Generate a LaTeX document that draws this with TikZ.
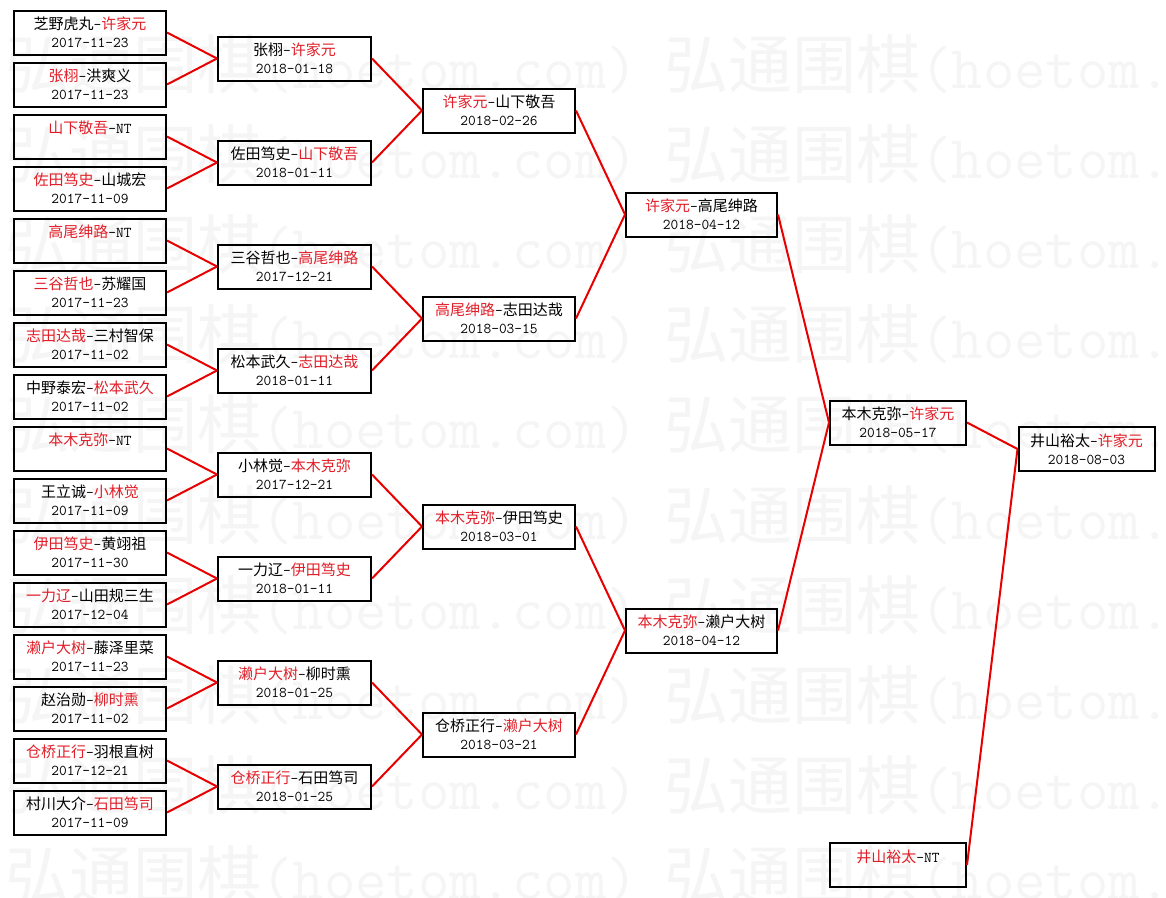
\documentclass[tikz,border=0pt]{standalone}
\usepackage{fontspec}
\setmainfont{Noto Sans CJK SC}
\definecolor{wred}{RGB}{225,30,40}
\definecolor{lred}{RGB}{232,0,0}
\definecolor{wmark}{RGB}{245,245,245}
\newcommand\rd[1]{\textcolor{wred}{#1}}
\newcommand\hy{{\ttfamily-}}
\newcommand\dt[1]{{\ttfamily #1}}
\newcommand\wm{弘通围棋{\fontsize{45.7}{48}\ttfamily(hoetom.com)}}
\tikzset{
  box/.style={draw=black, line width=1.5pt, rectangle, inner sep=0pt, align=center,
    minimum height=33pt, font=\fontsize{11.25}{13.5}\selectfont},
  cA/.style={box, minimum width=114pt},
  cB/.style={box, minimum width=114.75pt},
  cC/.style={box, minimum width=114pt},
  cD/.style={box, minimum width=113.25pt},
  cE/.style={box, minimum width=102pt},
  link/.style={draw=lred, line width=1.5pt},
  wmtext/.style={text=wmark, anchor=base west, inner sep=0pt, font=\fontsize{48}{48}\selectfont}
}
\begin{document}
\begin{tikzpicture}[x=0.75pt,y=-0.75pt]
\useasboundingbox (0,0) rectangle (1166,897);
\clip (0,0) rectangle (1166,897);
\fill[white] (0,0) rectangle (1166,897);
% watermark
\foreach \k in {0,...,9}{
  \node[wmtext] (wmA\k) at (5,{88+90.2*\k}) {\wm};
  \node[wmtext] (wmB\k) at (664,{88+90.2*\k}) {\wm};
}
% column 1
\node[cA] (a1) at (90,32.5) {芝野虎丸\hy\rd{许家元}\\\dt{2017-11-23}};
\node[cA] (a2) at (90,84.5) {\rd{张栩}\hy 洪爽义\\\dt{2017-11-23}};
\node[cA] (a3) at (90,136.5) {\rd{山下敬吾}\hy\dt{NT}\\\phantom{\dt{2017}}};
\node[cA] (a4) at (90,188.5) {\rd{佐田笃史}\hy 山城宏\\\dt{2017-11-09}};
\node[cA] (a5) at (90,240.5) {\rd{高尾绅路}\hy\dt{NT}\\\phantom{\dt{2017}}};
\node[cA] (a6) at (90,292.5) {\rd{三谷哲也}\hy 苏耀国\\\dt{2017-11-23}};
\node[cA] (a7) at (90,344.5) {\rd{志田达哉}\hy 三村智保\\\dt{2017-11-02}};
\node[cA] (a8) at (90,396.5) {中野泰宏\hy\rd{松本武久}\\\dt{2017-11-02}};
\node[cA] (a9) at (90,448.5) {\rd{本木克弥}\hy\dt{NT}\\\phantom{\dt{2017}}};
\node[cA] (a10) at (90,500.5) {王立诚\hy\rd{小林觉}\\\dt{2017-11-09}};
\node[cA] (a11) at (90,552.5) {\rd{伊田笃史}\hy 黄翊祖\\\dt{2017-11-30}};
\node[cA] (a12) at (90,604.5) {\rd{一力辽}\hy 山田规三生\\\dt{2017-12-04}};
\node[cA] (a13) at (90,656.5) {\rd{濑户大树}\hy 藤泽里菜\\\dt{2017-11-23}};
\node[cA] (a14) at (90,708.5) {赵治勋\hy\rd{柳时熏}\\\dt{2017-11-02}};
\node[cA] (a15) at (90,760.5) {\rd{仓桥正行}\hy 羽根直树\\\dt{2017-12-21}};
\node[cA] (a16) at (90,812.5) {村川大介\hy\rd{石田笃司}\\\dt{2017-11-09}};
% column 2
\node[cB] (b1) at (294.5,58.5) {张栩\hy\rd{许家元}\\\dt{2018-01-18}};
\node[cB] (b2) at (294.5,162.5) {佐田笃史\hy\rd{山下敬吾}\\\dt{2018-01-11}};
\node[cB] (b3) at (294.5,266.5) {三谷哲也\hy\rd{高尾绅路}\\\dt{2017-12-21}};
\node[cB] (b4) at (294.5,370.5) {松本武久\hy\rd{志田达哉}\\\dt{2018-01-11}};
\node[cB] (b5) at (294.5,474.5) {小林觉\hy\rd{本木克弥}\\\dt{2017-12-21}};
\node[cB] (b6) at (294.5,578.5) {一力辽\hy\rd{伊田笃史}\\\dt{2018-01-11}};
\node[cB] (b7) at (294.5,682.5) {\rd{濑户大树}\hy 柳时熏\\\dt{2018-01-25}};
\node[cB] (b8) at (294.5,786.5) {\rd{仓桥正行}\hy 石田笃司\\\dt{2018-01-25}};
% column 3
\node[cC] (c1) at (499,110.5) {\rd{许家元}\hy 山下敬吾\\\dt{2018-02-26}};
\node[cC] (c2) at (499,318.5) {\rd{高尾绅路}\hy 志田达哉\\\dt{2018-03-15}};
\node[cC] (c3) at (499,526.5) {\rd{本木克弥}\hy 伊田笃史\\\dt{2018-03-01}};
\node[cC] (c4) at (499,734.5) {仓桥正行\hy\rd{濑户大树}\\\dt{2018-03-21}};
% column 4
\node[cD] (d1) at (701.5,214.5) {\rd{许家元}\hy 高尾绅路\\\dt{2018-04-12}};
\node[cD] (d2) at (701.5,630.5) {\rd{本木克弥}\hy 濑户大树\\\dt{2018-04-12}};
% column 5
\node[cE] (e1) at (898,422.5) {本木克弥\hy\rd{许家元}\\\dt{2018-05-17}};
\node[cE] (e2) at (898,865) {\rd{井山裕太}\hy\dt{NT}\\\phantom{\dt{2017}}};
% final
\node[cE] (f1) at (1086.5,449) {井山裕太\hy\rd{许家元}\\\dt{2018-08-03}};
% links
\foreach \p/\c in {b1/a1,b1/a2,b2/a3,b2/a4,b3/a5,b3/a6,b4/a7,b4/a8,
                   b5/a9,b5/a10,b6/a11,b6/a12,b7/a13,b7/a14,b8/a15,b8/a16,
                   c1/b1,c1/b2,c2/b3,c2/b4,c3/b5,c3/b6,c4/b7,c4/b8,
                   d1/c1,d1/c2,d2/c3,d2/c4,e1/d1,e1/d2,f1/e1,f1/e2}
  \draw[link] (\c.east) -- (\p.west);
\end{tikzpicture}
\end{document}
